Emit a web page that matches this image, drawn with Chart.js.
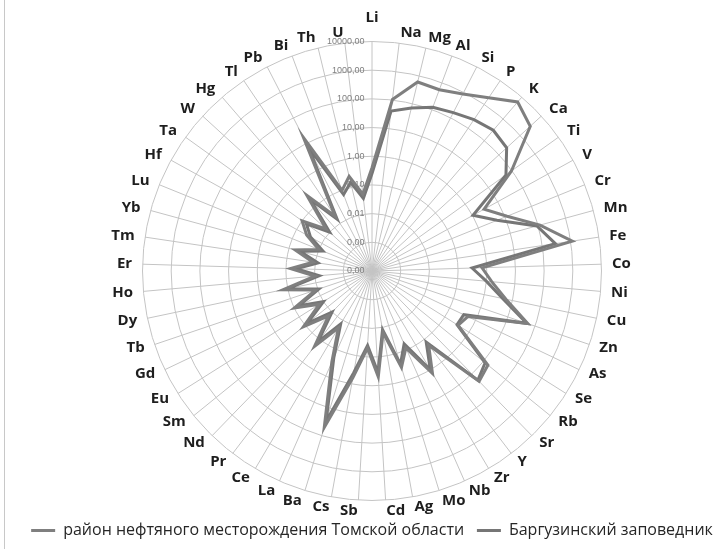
<!DOCTYPE html>
<html>
<head>
<meta charset="utf-8">
<script src="https://cdn.jsdelivr.net/npm/chart.js@4/dist/chart.umd.min.js"></script>
<style>
  body { margin: 0; background: #fff; }
  #frame { position: absolute; left: 4px; top: 0; height: 549px; border-left: 1px solid #c8c8c8; }
  canvas { position: absolute; left: 0; top: 0; }
</style>
</head>
<body>
<canvas id="myChart" width="722" height="549"></canvas>
<div id="frame"></div>
<script>
// elements round the radar, clockwise from the top
var elements = ['Li', 'Na', 'Mg', 'Al', 'Si', 'P', 'K', 'Ca', 'Ti', 'V', 'Cr', 'Mn', 'Fe', 'Co', 'Ni',
  'Cu', 'Zn', 'As', 'Se', 'Rb', 'Sr', 'Y', 'Zr', 'Nb', 'Mo', 'Ag', 'Cd', 'Sb', 'Cs', 'Ba', 'La', 'Ce',
  'Pr', 'Nd', 'Sm', 'Eu', 'Gd', 'Tb', 'Dy', 'Ho', 'Er', 'Tm', 'Yb', 'Lu', 'Hf', 'Ta', 'W', 'Hg', 'Tl',
  'Pb', 'Bi', 'Th', 'U'];

// values (log axis 0,0001 ... 10000)
var oilField = [0.4, 105, 600, 550, 870, 1900, 6000, 3000, 96, 2.9, 12, 118, 1150, 0.69, 1.55,
  5.9, 54, 0.5, 0.35, 16, 23, 0.18, 1.4, 0.085, 0.33, 0.015, 0.5, 0.05, 0.6, 50, 0.3, 0.02,
  0.2, 0.015, 0.12, 0.015, 0.1, 0.012, 0.15, 0.01, 0.07, 0.012, 0.06, 0.01, 0.04, 0.1, 0.015, 0.3, 0.02,
  17, 0.1, 0.25, 0.05];
var barguzin = [0.25, 41, 70, 123, 160, 230, 300, 230, 56, 1.05, 5, 91, 290, 0.31, 1.0,
  4.5, 50, 0.35, 0.32, 12, 20, 0.13, 1.0, 0.06, 0.25, 0.012, 0.35, 0.04, 0.4, 30, 0.2, 0.014,
  0.13, 0.01, 0.08, 0.01, 0.065, 0.009, 0.1, 0.007, 0.045, 0.008, 0.04, 0.007, 0.028, 0.065, 0.01, 0.2, 0.015,
  7, 0.07, 0.15, 0.035];

var seriesNames = ['район нефтяного месторождения Томской области', 'Баргузинский заповедник'];
var seriesColors = ['#7f7f7f', '#767676'];

// radial axis in powers of ten, centre to rim
var tickPowers = [-4, -3, -2, -1, 0, 1, 2, 3, 4];

// tick labels sit left of the vertical axis: pad them with spaces
var measureCtx = document.createElement('canvas').getContext('2d');
measureCtx.font = '9px "Liberation Sans"';
var nbspWidth = measureCtx.measureText('\u00a0').width;
function tickLabel(power) {
  var text = Math.pow(10, power).toFixed(2).replace('.', ',');
  var n = Math.round((measureCtx.measureText(text).width + 16) / nbspWidth);
  return text + '\u00a0'.repeat(n);
}

function toLog(values) {
  return values.map(function (v) { return Math.log10(v); });
}

function makeDataset(i, values) {
  return {
    label: seriesNames[i],
    data: toLog(values),
    borderColor: seriesColors[i],
    backgroundColor: seriesColors[i],
    borderWidth: 3,
    pointBorderWidth: 3
  };
}

var ctx = document.getElementById('myChart').getContext('2d');
new Chart(ctx, {
  type: 'radar',
  data: {
    labels: elements,
    datasets: [makeDataset(0, oilField), makeDataset(1, barguzin)]
  },
  options: {
    responsive: false,
    animation: false,
    devicePixelRatio: 1,
    layout: { padding: { left: 22, right: 0, top: 12, bottom: 0.5 } },
    elements: {
      line: { tension: 0, fill: false },
      point: { radius: 0, hoverRadius: 0 }
    },
    scales: {
      r: {
        min: tickPowers[0],
        max: tickPowers[tickPowers.length - 1],
        startAngle: 0,
        grid: { circular: true, color: '#c4c4c4', lineWidth: 1 },
        angleLines: { color: '#c4c4c4', lineWidth: 1 },
        ticks: {
          stepSize: 1,
          showLabelBackdrop: false,
          color: '#7f7f7f',
          font: { family: 'Liberation Sans', size: 9 },
          callback: function (value) { return tickLabel(value); }
        },
        pointLabels: {
          color: '#1e1e1e',
          // near-zero line height keeps each label centred on its spoke
          font: { family: 'Open Sans', size: 15, weight: 'bold', lineHeight: 0.001 },
          padding: function (c) { return c.index === 0 ? 17 : 4; }
        }
      }
    },
    plugins: {
      tooltip: { enabled: false },
      legend: {
        position: 'bottom',
        labels: {
          usePointStyle: true,
          pointStyle: 'line',
          pointStyleWidth: 24,
          padding: 4.5,
          color: '#262626',
          font: { family: 'Open Sans', size: 16 },
          generateLabels: function (chart) {
            var items = Chart.defaults.plugins.legend.labels.generateLabels(chart);
            items[0].text += '\u00a0\u00a0';
            return items;
          }
        }
      }
    }
  }
});
</script>
</body>
</html>
